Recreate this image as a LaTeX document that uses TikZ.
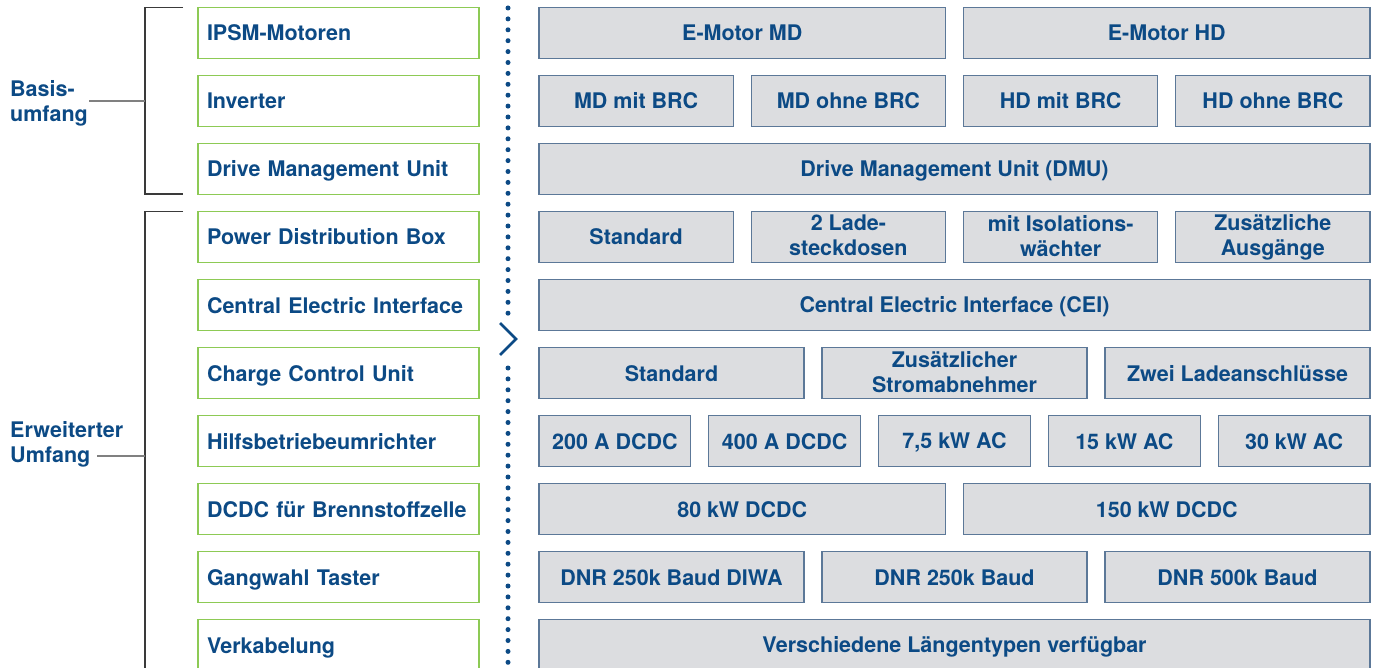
\documentclass[tikz,border=0pt]{standalone}
\usepackage{fontspec}
\setmainfont{TeX Gyre Heros}
\usepackage{tikz}

\definecolor{txtblue}{HTML}{0C4A85}
\definecolor{boxgreen}{HTML}{8DCA55}
\definecolor{boxgray}{HTML}{DCDDE0}
\definecolor{boxedge}{HTML}{5C7898}
\definecolor{brackgray}{HTML}{3A3A3A}

\tikzset{
  leftbox/.style={draw=boxgreen, line width=1.3pt, fill=white,
    minimum width=281pt, minimum height=51pt, text width=263pt,
    text height=19pt, text depth=3pt,
    inner xsep=9pt, align=left, text=txtblue},
  optbox/.style={draw=boxedge, line width=1.3pt, fill=boxgray,
    minimum height=51pt, inner sep=2pt, align=center, text=txtblue,
    execute at begin node={\rule[-3pt]{0pt}{22pt}}},
  grouplabel/.style={inner sep=0pt, align=left, text=txtblue, anchor=west},
  bracket/.style={draw=brackgray, line width=1.2pt},
  labelline/.style={draw=gray, line width=1.2pt},
  dotline/.style={draw=txtblue, line width=5pt, line cap=round,
    dash pattern=on 0pt off 10.9pt},
}

% eine Zeile mit n gleich breiten Varianten
\newcommand{\optrow}[3]{%
  \foreach \t [count=\i] in {#3} {
    \pgfmathsetmacro{\w}{(831-18*(#2-1))/#2}
    \pgfmathsetmacro{\cx}{539+\w/2+(\i-1)*(\w+18)}
    \node[optbox, minimum width=\w pt] (o#1-\i) at (\cx, 33+68*#1) {\t};
  }}

\begin{document}
\begin{tikzpicture}[x=1pt, y=-1pt,
  every node/.style={font=\bfseries\fontsize{21.5}{25}\selectfont}]
  \useasboundingbox (0,0) rectangle (1378,668);

  % Komponenten links
  \node[leftbox] (k0) at (338.5,33)  {IPSM-Motoren};
  \node[leftbox] (k1) at (338.5,101) {Inverter};
  \node[leftbox] (k2) at (338.5,169) {Drive Management Unit};
  \node[leftbox] (k3) at (338.5,237) {Power Distribution Box};
  \node[leftbox] (k4) at (338.5,305) {Central Electric Interface};
  \node[leftbox] (k5) at (338.5,373) {Charge Control Unit};
  \node[leftbox] (k6) at (338.5,441) {Hilfsbetriebeumrichter};
  \node[leftbox] (k7) at (338.5,509) {DCDC für Brennstoffzelle};
  \node[leftbox] (k8) at (338.5,577) {Gangwahl Taster};
  \node[leftbox] (k9) at (338.5,645) {Verkabelung};

  % Varianten rechts
  \optrow{0}{2}{E-Motor MD, E-Motor HD}
  \optrow{1}{4}{MD mit BRC, MD ohne BRC, HD mit BRC, HD ohne BRC}
  \optrow{2}{1}{Drive Management Unit (DMU)}
  \optrow{3}{4}{Standard, {2 Lade-\\steckdosen}, {mit Isolations-\\wächter}, {Zusätzliche\\Ausgänge}}
  \optrow{4}{1}{Central Electric Interface (CEI)}
  \optrow{5}{3}{Standard, {Zusätzlicher\\Stromabnehmer}, Zwei Ladeanschlüsse}
  \optrow{6}{5}{200 A DCDC, 400 A DCDC, {7,5 kW AC}, 15 kW AC, 30 kW AC}
  \optrow{7}{2}{80 kW DCDC, 150 kW DCDC}
  \optrow{8}{3}{DNR 250k Baud DIWA, DNR 250k Baud, DNR 500k Baud}
  \optrow{9}{1}{Verschiedene Längentypen verfügbar}

  % Klammern und Gruppen
  \node[grouplabel] (basis) at (10,103.5) {Basis-\\umfang};
  \node[grouplabel] (erw) at (10,444) {Erweiterter\\Umfang};
  \coordinate (b1) at (145,101);
  \coordinate (b2) at (145,456);
  \coordinate (e2) at (97,456);
  \draw[bracket] (183,7.5) -- (145,7.5) -- (145,194) -- (183,194);
  \draw[bracket] (183,211.5) -- (145,211.5) -- (145,680);
  \draw[labelline] ([xshift=1pt]basis.east |- b1) -- (b1);
  \draw[labelline] (e2) -- (b2);

  % Trennlinie mit Pfeil
  \draw[dotline] (508,8) -- (508,314);
  \draw[dotline] (508,368) -- (508,675);
  \draw[txtblue, line width=2.6pt, line join=miter] (500,323) -- (516,339) -- (500,355);
\end{tikzpicture}
\end{document}
